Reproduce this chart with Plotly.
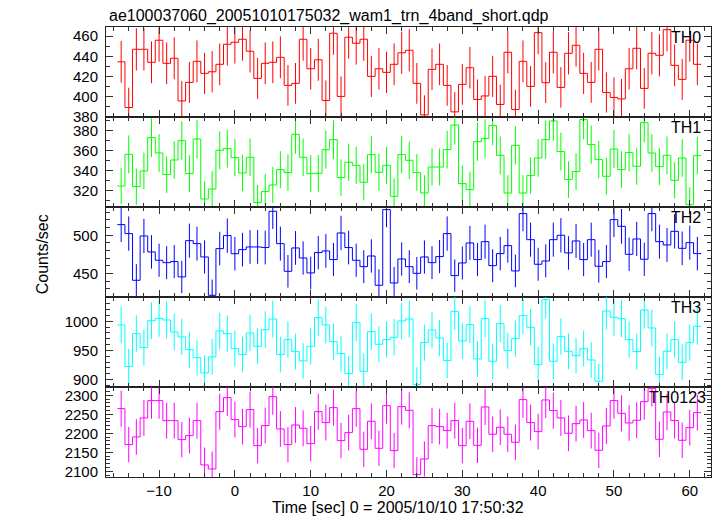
import numpy as np
import plotly.graph_objects as go
from plotly.subplots import make_subplots

time_sec = list(range(-15, 62))

th0 = [434.5, 389, 447, 447, 434, 456, 433, 438, 395.5, 414, 435, 423, 424.6, 432, 452,
       454, 457, 445, 418, 433, 434, 439, 411, 413, 457,
       427.6, 436.5, 396, 463, 400, 459, 453, 457, 420, 427.6,
       424, 432, 443.5, 446, 413, 381.6, 427, 432, 411, 384.6,
       412, 428.6, 397, 400.5, 420, 392, 444, 387, 435, 410,
       463.6, 413.7, 444, 409, 443, 451, 423, 414, 447, 404,
       399, 397.5, 427.6, 448, 408, 443, 441, 466.6, 431, 417,
       456, 432]

th1 = [324.3, 356, 323.7, 339.3, 372.7, 357.3, 335.7, 350.3, 369.7, 336.7, 371.3, 311.3, 321.3, 360, 361.7,
       352.7, 337.3, 353, 307.7, 318.7, 325.3, 340.7, 337.7, 376, 353,
       336.7, 337, 360.7, 370.7, 332.7, 348, 345, 328, 355.7, 338,
       345, 314, 355.7, 350, 337.7, 317.3, 343.3, 343.3, 360.7, 385.3,
       326.7, 320.7, 368.7, 371.7, 384.7, 355, 317.3, 365, 317.3, 334.7,
       352.3, 370.7, 389.3, 358.7, 330.7, 338.7, 390.7, 365.7, 350.7, 334,
       361.3, 340.7, 357.7, 344, 387.7, 357.3, 343.7, 355, 330, 352.3,
       305.7, 354.7]

th2 = [513.9, 502.2, 441.3, 499.1, 478.3, 467.4, 464.3, 465.7, 445.7, 493, 489.1, 471.7, 421.7, 482.6, 499.6,
       476, 481.3, 484.8, 484.8, 484, 531.3, 489.1, 453, 483.5, 470.4,
       450.9, 477.4, 479.6, 468.3, 503, 484, 467.4, 459.1, 473, 434.8,
       533.5, 437.8, 469.1, 459.1, 450.4, 471.7, 464.3, 472.2, 502.2, 447.4,
       463.9, 490, 468.3, 491.7, 460.4, 476.1, 486.5, 453.5, 528.3, 494.3,
       462.2, 466.5, 494.3, 500, 477, 492.6, 468.3, 494.3, 459.6, 465.7,
       520.4, 511.7, 475.2, 495.2, 468.7, 528.3, 491.7, 487.4, 505.2, 483,
       490.4, 476.1]

th3 = [993.7, 922.3, 978.9, 954.9, 1001.1, 1005.1, 1002.3, 981.7, 973.1, 951.4, 937.7, 911.4, 938.9, 983.4, 978.9,
       953.1, 942.9, 980, 957.1, 985.7, 1004, 942.9, 968.6, 948, 932,
       957.1, 1006.3, 993.7, 965.1, 944.6, 910.3, 997.7, 914.3, 982.3, 960.6,
       968.6, 972.6, 1000.6, 1004, 891.4, 963.4, 985.1, 971.4, 932.6, 1017.1,
       966.3, 994.3, 935.4, 1004.6, 931.4, 996, 949.7, 970.3, 1009.7, 989.7,
       925.7, 1037.1, 931.4, 973.7, 948.6, 941.1, 953.1, 933.7, 897.1, 1017.7,
       1006.9, 1004.6, 968.6, 948, 1019.4, 988.6, 908.6, 948.6, 968.6, 929.7,
       963.4, 991.4]

th0123 = [2264.9, 2170.2, 2190.4, 2240.4, 2286, 2286, 2233.3, 2233.3, 2183.3, 2193.9, 2233.3, 2116.7, 2106.1, 2257, 2293.9,
          2236, 2217.5, 2262.3, 2167.5, 2220.2, 2296.5, 2211.4, 2170.2, 2221.9, 2213.2,
          2172.8, 2257, 2228.1, 2267.5, 2180.7, 2201.8, 2264.9, 2157.9, 2231.6, 2160.5,
          2272.8, 2154.4, 2270.2, 2260.5, 2091.2, 2132.5, 2220.2, 2217.5, 2207, 2233.3,
          2167.5, 2231.6, 2168.4, 2269.3, 2197.4, 2215.8, 2197.4, 2176.3, 2288.6, 2228.1,
          2204.4, 2287.7, 2259.6, 2240.4, 2200, 2225.4, 2235.1, 2207, 2155.3, 2219.3,
          2286, 2252.6, 2227.2, 2234.2, 2283.3, 2318.4, 2184.2, 2256.1, 2233.3, 2181.6,
          2214.9, 2254.4]

band_names = ["TH0", "TH1", "TH2", "TH3", "TH0123"]
band_colors = ["#ff0000", "#00ff00", "#0000ff", "#00ffff", "#ff00ff"]
y_ranges = [[379.5, 469.2], [303.3, 393.3], [419.5, 536.9], [887.3, 1041.7], [2085, 2321.8]]
y_dticks = [20, 20, 50, 50, 50]
label_x = [0.9868, 0.9868, 0.9868, 0.9868, 0.995]

series = [th0, th1, th2, th3, th0123]

FONT = "Liberation Sans, Arial, Helvetica, sans-serif"

fig = make_subplots(rows=5, cols=1, shared_xaxes=True, vertical_spacing=0)

t = np.array(time_sec, dtype=float)
edges = np.concatenate([t - 0.5, [t[-1] + 0.5]])

for i, (vals, col) in enumerate(zip(series, band_colors)):
    v = np.array(vals, dtype=float)
    err = np.sqrt(v)
    r = i + 1
    fig.add_trace(go.Scatter(x=edges, y=np.concatenate([v, [v[-1]]]), mode="lines",
                             line=dict(color=col, width=1, shape="hv"),
                             showlegend=False, hoverinfo="skip"), row=r, col=1)
    fig.add_trace(go.Scatter(x=t, y=v, mode="markers",
                             marker=dict(size=1, color="rgba(0,0,0,0)"),
                             error_y=dict(type="data", array=err, width=0, thickness=1, color=col),
                             showlegend=False), row=r, col=1)

axis_common = dict(showline=True, linecolor="#222222", linewidth=1, mirror="allticks",
                   ticks="inside", ticklen=7, tickwidth=1, tickcolor="#333333",
                   showgrid=False, zeroline=False,
                   tickfont=dict(family=FONT, size=15, color="black"))

for i in range(5):
    r = i + 1
    fig.update_xaxes(range=[-17.0, 62.8], dtick=10, tick0=0,
                     minor=dict(ticks="inside", ticklen=4, dtick=2, tick0=0, tickcolor="#333333", showgrid=False),
                     **axis_common, row=r, col=1)
    fig.update_yaxes(range=y_ranges[i], dtick=y_dticks[i], tick0=0,
                     minor=dict(ticks="inside", ticklen=4, dtick=10, tick0=0, tickcolor="#333333", showgrid=False),
                     ticklabelstandoff=4,
                     **axis_common, row=r, col=1)

annotations = []
for i, name in enumerate(band_names):
    suffix = "" if i == 0 else str(i + 1)
    annotations.append(dict(text=name, xref=f"x{suffix} domain", yref=f"y{suffix} domain",
                            x=label_x[i], y=0.882, xanchor="right", yanchor="middle",
                            showarrow=False, font=dict(family=FONT, size=16, color="black")))

annotations.append(dict(text="ae100037060_20051010175032_wam1_trn_4band_short.qdp",
                        xref="paper", yref="paper", x=0.0017, y=1.0238,
                        xanchor="left", yanchor="middle", showarrow=False,
                        font=dict(family=FONT, size=16, color="black")))
annotations.append(dict(text="Counts/sec", xref="paper", yref="paper", x=-0.1058, y=0.4949,
                        xanchor="center", yanchor="middle", textangle=-90, showarrow=False,
                        font=dict(family=FONT, size=16, color="black")))
annotations.append(dict(text="Time [sec] 0 = 2005/10/10 17:50:32", xref="paper", yref="paper",
                        x=0.4826, y=-0.0667, xanchor="center", yanchor="middle", showarrow=False,
                        font=dict(family=FONT, size=16, color="black")))

fig.update_layout(width=717, height=516, margin=dict(l=106, r=6, t=27, b=39),
                  paper_bgcolor="white", plot_bgcolor="white", annotations=annotations,
                  showlegend=False)

fig.write_html("out.html", config={"displayModeBar": False},
               post_script="document.body.style.margin='0';document.body.style.overflow='hidden';")
